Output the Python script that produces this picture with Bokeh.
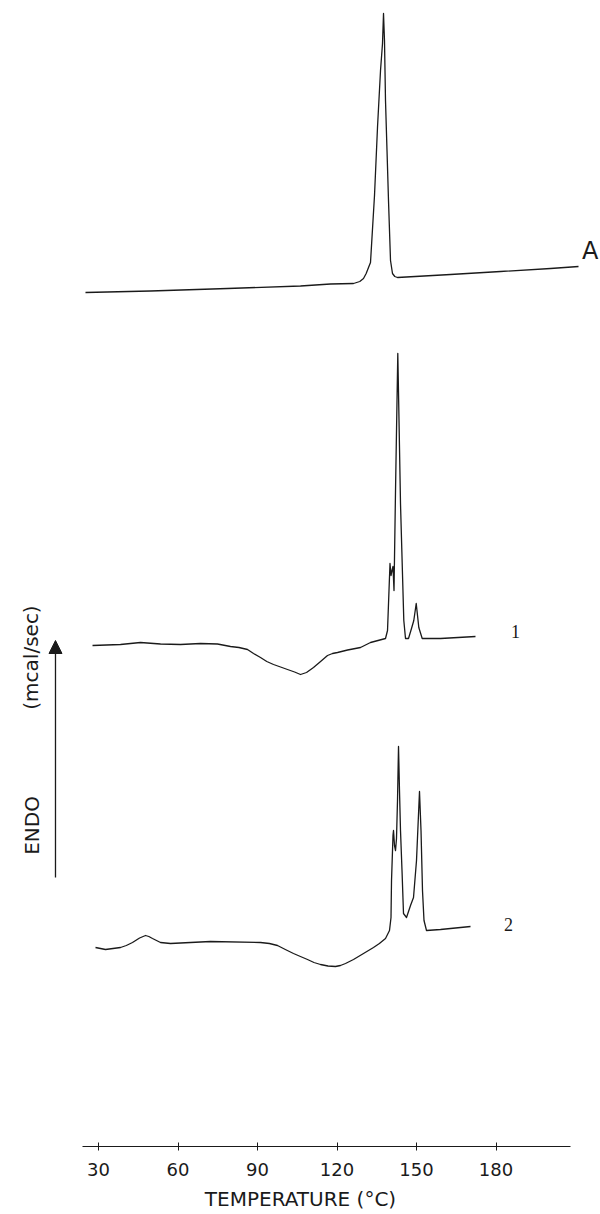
import math
from bokeh.plotting import figure
from bokeh.models import Range1d, FixedTicker, Arrow, NormalHead
from bokeh.core.properties import value
from bokeh.embed import file_html
from bokeh.resources import INLINE

# ---- data (temperature in degC, heat flow in arbitrary stacked units) ----
temp_A = [25.09, 49.62, 78.68, 106.23, 117.55, 126.23, 128.6, 130.0, 131.0, 131.89,
          132.64, 134.15, 135.28, 136.42, 137.17, 137.55, 137.92, 138.30, 138.87, 139.43,
          140.19, 140.94, 141.8, 142.83, 162.83, 181.70, 200.57, 211.13]
flow_A = [854, 855.5, 858, 860.5, 862.5, 863, 865, 868, 873, 879,
          884, 951, 1019, 1076, 1103, 1133, 1106, 1046, 996, 946,
          886, 873, 870, 869, 872, 875, 878, 880]

temp_1 = [27.74, 38.30, 45.85, 53.40, 60.94, 68.49, 74.91, 79.81, 83.0, 86.23,
          88.5, 91.13, 93.5, 96.04, 98.7, 101.32, 104.0, 106.23, 108.5, 111.13,
          113.8, 116.42, 118.3, 120.19, 124.0, 128.87, 132.64, 138.30, 139.06, 139.62,
          140.0, 140.38, 140.75, 141.13, 141.51, 142.08, 142.94, 143.40, 143.96, 145.21,
          145.85, 146.98, 148.11, 148.98, 149.89, 150.87, 152.15, 159.06, 172.26]
flow_1 = [501, 502, 504, 502.5, 502, 503, 502.5, 500, 499, 497,
          493, 489, 485, 482, 479.5, 477, 474.5, 472, 474, 479,
          485, 491, 493, 494, 496.5, 499, 504, 508, 516, 556,
          583, 571, 576, 580, 556, 656, 793, 726, 643, 526,
          508, 508, 518, 526, 543, 519, 508, 508, 510]

temp_2 = [28.87, 32.64, 38.30, 40.5, 42.83, 45.5, 47.74, 49.0, 50.38, 53.40,
          57.17, 72.26, 91.13, 94.5, 97.55, 100.5, 103.58, 106.2, 108.87, 111.3,
          113.77, 116.6, 119.43, 121.3, 123.21, 126.23, 130.0, 133.77, 136.0, 138.30,
          139.81, 140.38, 140.57, 141.13, 141.32, 141.70, 142.08, 142.45, 142.83, 143.21,
          143.58, 143.96, 144.53, 145.09, 146.23, 147.74, 148.87, 150.00, 151.13, 151.70,
          152.26, 152.83, 153.77, 159.06, 170.38]
flow_2 = [199, 197, 199, 201, 204, 208.5, 211, 210, 208, 204,
          203, 205, 204, 203, 201, 197, 193, 190, 187, 184,
          182, 180.5, 180, 181, 183, 187, 193, 199, 203, 208,
          216, 229, 266, 311, 316, 301, 296, 308, 346, 400,
          356, 316, 276, 233, 229, 241, 249, 286, 355, 316,
          256, 226, 216, 217, 220]

x_ticks = [30, 60, 90, 120, 150, 180]

label_text = ["A", "1", "2"]
label_temp = [215.5, 187.4, 184.7]
label_flow = [896, 515, 222]

INK = "#1a1a1a"

p = figure(width=600, height=1214, output_backend="svg", toolbar_location=None,
           x_range=Range1d(-6.98, 219.43), y_range=Range1d(0, 1146),
           min_border_left=0, min_border_right=0, min_border_top=0, min_border_bottom=68,
           y_axis_location=None)
p.outline_line_color = None
p.xgrid.visible = False
p.ygrid.visible = False
p.background_fill_color = "white"
p.border_fill_color = "white"

for t, f in ((temp_A, flow_A), (temp_1, flow_1), (temp_2, flow_2)):
    p.line(t, f, line_color=INK, line_width=1.3, line_join="round")

# trace labels
p.text(x=[label_temp[0]], y=[label_flow[0]], text=[label_text[0]],
       text_font=value("DejaVu Sans"), text_font_size="24px", text_color=INK,
       text_align="center", text_baseline="middle")
p.text(x=label_temp[1:], y=label_flow[1:], text=label_text[1:],
       text_font=value("Liberation Serif"), text_font_size="18px", text_color=INK,
       text_align="center", text_baseline="middle")

# y-axis legend: ENDO arrow
p.add_layout(Arrow(end=NormalHead(size=13, fill_color=INK, line_color=INK),
                   x_start=13.77, y_start=269, x_end=13.77, y_end=506,
                   line_color=INK, line_width=1.3))
p.text(x=[5.09], y=[321], text=["ENDO"], angle=math.pi / 2,
       text_font=value("DejaVu Sans"), text_font_size="20px", text_color=INK,
       text_align="center", text_baseline="middle")
p.text(x=[4.5], y=[489], text=["(mcal/sec)"], angle=math.pi / 2,
       text_font=value("DejaVu Sans"), text_font_size="20px", text_color=INK,
       text_align="center", text_baseline="middle")

ax = p.xaxis[0]
ax.ticker = FixedTicker(ticks=x_ticks)
ax.bounds = (23.96, 208.1)
ax.axis_line_color = INK
ax.axis_line_width = 1.2
ax.major_tick_in = 4
ax.major_tick_out = 4
ax.major_tick_line_color = INK
ax.minor_tick_line_color = None
ax.major_label_text_font = "DejaVu Sans"
ax.major_label_text_font_size = "18px"
ax.major_label_text_color = INK
ax.major_label_standoff = 12
ax.axis_label = "TEMPERATURE (°C)"
ax.axis_label_text_font = "DejaVu Sans"
ax.axis_label_text_font_style = "normal"
ax.axis_label_text_font_size = "20px"
ax.axis_label_text_color = INK
ax.axis_label_standoff = 8

open("out.html", "w").write(file_html(p, INLINE))
